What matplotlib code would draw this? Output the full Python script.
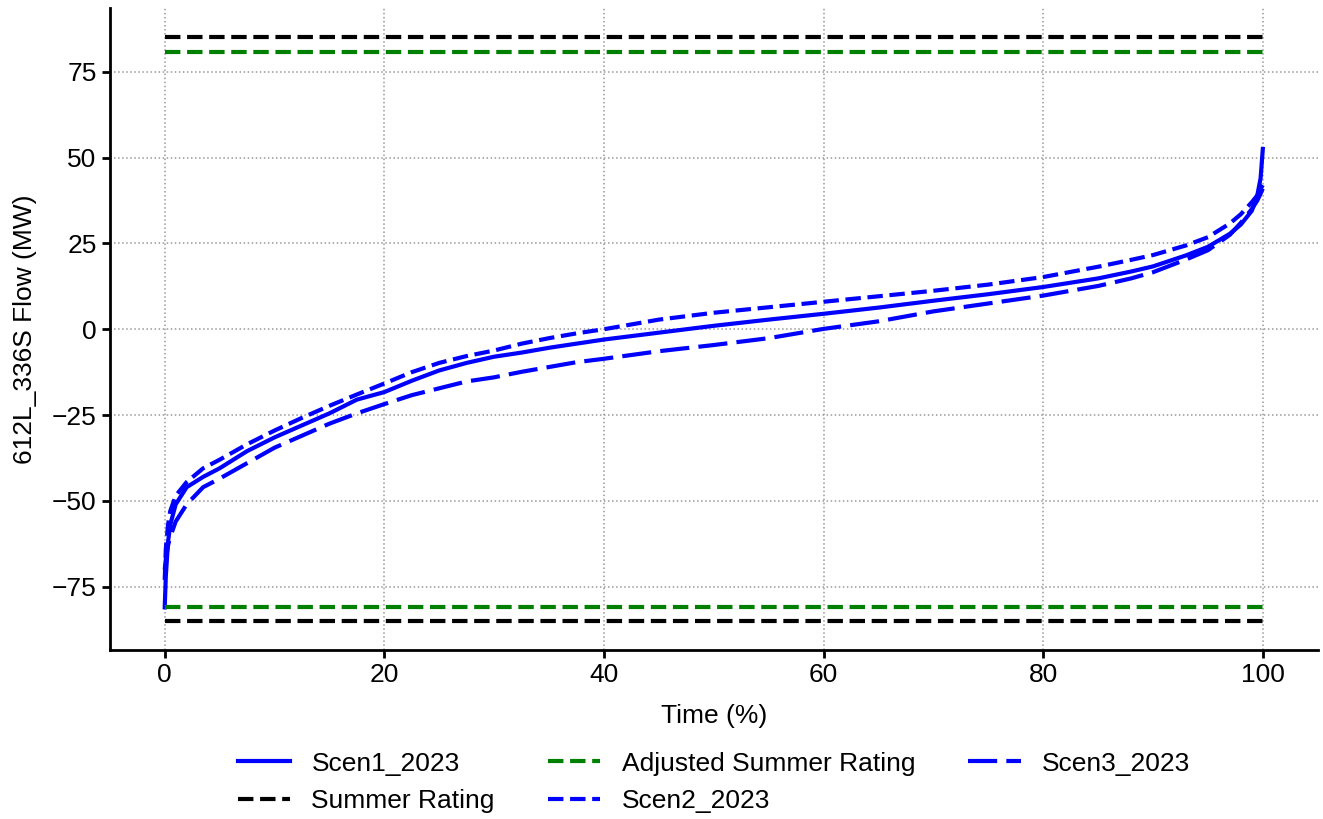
import numpy as np
import matplotlib
matplotlib.use('Agg')
import matplotlib.pyplot as plt

plt.rcParams['font.family'] = ['Liberation Sans', 'DejaVu Sans']
plt.rcParams['font.size'] = 19

# duration-curve sample points (percent of time)
pct = [0, 0.1, 0.3, 0.5, 1.0, 2.0, 3.5, 5, 7.5, 10, 12.5, 15, 17.5, 20, 22.5,
       25, 27.5, 30, 32.5, 35, 37.5, 40, 45, 50, 55, 60, 65, 70, 75, 80, 85,
       88, 90, 93, 95, 97, 98, 99, 99.5, 99.8, 100]

scen1 = [-81, -72, -62, -57, -51, -46, -43, -40.5, -35.5, -31.5, -28, -24.5,
         -20.5, -18.3, -15, -12, -9.8, -8, -6.8, -5.4, -4.2, -3, -1.0, 1.0,
         2.8, 4.5, 6.3, 8.3, 10.2, 12.3, 14.8, 16.8, 18.3, 21.5, 24, 27.8,
         30.5, 34.5, 39, 44, 52.5]
scen2 = [-73, -64, -57, -53, -48.5, -44.5, -40.5, -38, -33.5, -29.5, -25.8, -22.3,
         -19, -15.8, -12.5, -9.8, -7.8, -6.2, -4.2, -2.6, -1.2, 0, 2.8, 4.8,
         6.4, 8.0, 9.6, 11.2, 13.0, 15.2, 18.2, 20.2, 21.6, 24.4, 26.8, 30.8,
         33.5, 37, 39, 41, 42]
scen3 = [-70, -67, -63, -60.5, -56, -51, -46, -43.5, -39, -34.5, -31, -27.5,
         -24.5, -21.8, -19.2, -17.2, -15.2, -14, -12.4, -11, -9.6, -8.6, -6.4,
         -4.6, -2.6, 0.1, 2.3, 5.2, 7.5, 9.8, 12.6, 14.8, 16.6, 20.3, 23, 27.5,
         31, 35, 37.5, 39.5, 41]

summer_rating = 85
adjusted_rating = 80.75

fig, ax = plt.subplots(figsize=(13.23, 8.19), dpi=100)
fig.subplots_adjust(left=0.083, right=0.996, top=0.99, bottom=0.206)

lw = 3
h1, = ax.plot(pct, scen1, color='blue', lw=lw, label='Scen1_2023')
h_sr, = ax.plot([0, 100], [summer_rating] * 2, color='black', ls='--', lw=lw,
                label='Summer Rating')
ax.plot([0, 100], [-summer_rating] * 2, color='black', ls='--', lw=lw)
h_asr, = ax.plot([0, 100], [adjusted_rating] * 2, color='green', ls='--', lw=lw,
                 label='Adjusted Summer Rating')
ax.plot([0, 100], [-adjusted_rating] * 2, color='green', ls='--', lw=lw)
h2, = ax.plot(pct, scen2, color='blue', ls='--', lw=lw, label='Scen2_2023')
h3, = ax.plot(pct, scen3, color='blue', lw=lw, dashes=(7, 2.2),
              label='Scen3_2023')

ax.set_xticks([0, 20, 40, 60, 80, 100])
ax.set_yticks([-75, -50, -25, 0, 25, 50, 75])
ax.grid(True, ls=':', color='#999999', lw=1.1)
ax.set_axisbelow(True)
ax.set_xlabel('Time (%)', labelpad=12)
ax.set_ylabel('612L_336S Flow (MW)', labelpad=11)

for side in ['top', 'right']:
    ax.spines[side].set_visible(False)
for side in ['left', 'bottom']:
    ax.spines[side].set_linewidth(2)
ax.tick_params(width=2, length=6)

ax.legend(handles=[h1, h_sr, h_asr, h2, h3], ncol=3, frameon=False,
          loc='upper center', bbox_to_anchor=(0.5, -0.121))

fig.savefig('out.png', dpi=100)
